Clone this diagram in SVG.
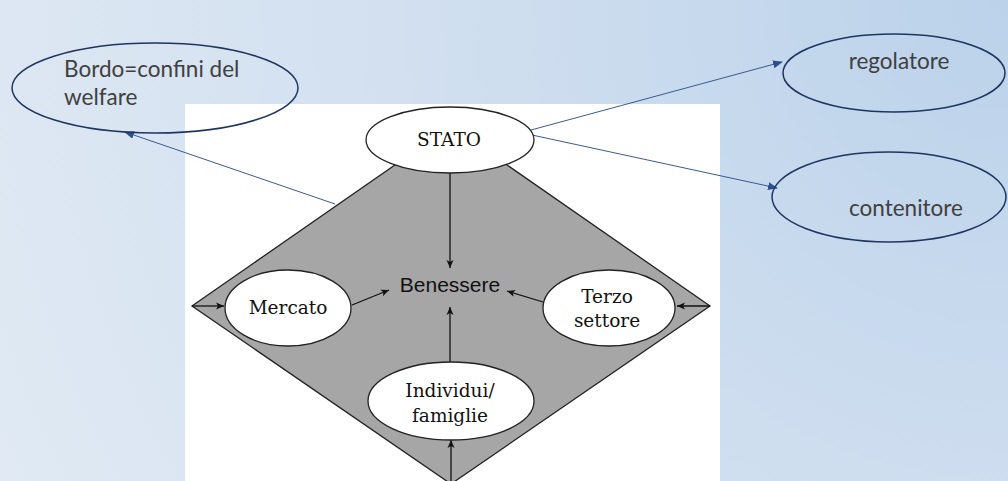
<svg xmlns="http://www.w3.org/2000/svg" width="1008" height="481" viewBox="0 0 1008 481">
  <defs>
    <radialGradient id="bg" cx="1008" cy="0" r="1150" gradientUnits="userSpaceOnUse">
      <stop offset="0" stop-color="#bbd2ea"/>
      <stop offset="0.45" stop-color="#cfdeef"/>
      <stop offset="1" stop-color="#e1eaf4"/>
    </radialGradient>
    <marker id="blueArrow" markerWidth="10" markerHeight="8" refX="9" refY="4" orient="auto" markerUnits="userSpaceOnUse">
      <path d="M0,0 L10,4 L0,8 z" fill="#2f4f8a"/>
    </marker>
    <marker id="blackArrow" markerWidth="9" markerHeight="8" refX="8" refY="4" orient="auto" markerUnits="userSpaceOnUse">
      <path d="M0,0.5 L8,4 L0,7.5 L2,4 z" fill="#111"/>
    </marker>
    <style>
      .blue-ell { fill: none; stroke: #1f3560; stroke-width: 1.5; }
      .blue-txt { font-family: Lato, "Open Sans", "Liberation Sans", sans-serif; font-size: 22.5px; fill: #404040; }
      .node-ell { fill: #ffffff; stroke: #222; stroke-width: 1.3; }
      .serif { font-family: "DejaVu Serif", "Liberation Serif", serif; font-size: 18.5px; fill: #111; text-anchor: middle; }
      .blue-line { stroke: #3a5a94; stroke-width: 1; fill: none; marker-end: url(#blueArrow); }
      .black-line { stroke: #111; stroke-width: 1.3; fill: none; marker-end: url(#blackArrow); }
    </style>
  </defs>

  <rect id="background" x="0" y="0" width="1008" height="481" fill="url(#bg)"/>
  <rect id="picture" x="185" y="104" width="535" height="377" fill="#ffffff"/>
  <polygon id="diamond" points="451,126 710,306 451,484 192,306" fill="#a6a6a6" stroke="#222" stroke-width="1.3"/>

  <g id="connectors">
    <line class="black-line" x1="192" y1="306" x2="224" y2="306"/>
    <line class="black-line" x1="710" y1="306" x2="677" y2="306"/>
    <line class="black-line" x1="451" y1="481" x2="451" y2="440"/>
    <line class="black-line" x1="450" y1="173" x2="450" y2="268"/>
    <line class="black-line" x1="450" y1="362" x2="450" y2="307"/>
    <line class="black-line" x1="352" y1="305" x2="389" y2="290"/>
    <line class="black-line" x1="543" y1="302" x2="507" y2="291"/>
    <line class="blue-line" x1="531" y1="130" x2="782" y2="62"/>
    <line class="blue-line" x1="532" y1="135" x2="777" y2="188"/>
    <line class="blue-line" x1="335" y1="204" x2="125" y2="132"/>
  </g>

  <g id="benessere">
    <text x="450" y="292" font-family="'Liberation Sans', Arial, sans-serif" font-size="21" fill="#111" text-anchor="middle">Benessere</text>
  </g>

  <g id="stato">
    <ellipse class="node-ell" cx="450" cy="140" rx="84" ry="33"/>
    <text x="449" y="146" class="serif" font-size="16.5">STATO</text>
  </g>

  <g id="mercato">
    <ellipse class="node-ell" cx="288" cy="308" rx="63" ry="38"/>
    <text x="288" y="314" class="serif">Mercato</text>
  </g>

  <g id="terzo-settore">
    <ellipse class="node-ell" cx="609" cy="308" rx="66" ry="38"/>
    <text class="serif"><tspan x="607" y="303">Terzo</tspan><tspan x="607" y="327">settore</tspan></text>
  </g>

  <g id="individui">
    <ellipse class="node-ell" cx="451" cy="401" rx="83" ry="39"/>
    <text class="serif"><tspan x="450" y="397">Individui/</tspan><tspan x="450" y="422">famiglie</tspan></text>
  </g>

  <g id="bordo">
    <ellipse class="blue-ell" cx="155" cy="88" rx="143" ry="45"/>
    <text class="blue-txt"><tspan x="64" y="77">Bordo=confini del</tspan><tspan x="64" y="105">welfare</tspan></text>
  </g>

  <g id="regolatore">
    <ellipse class="blue-ell" cx="894" cy="73" rx="111" ry="39"/>
    <text class="blue-txt" x="899" y="69" text-anchor="middle">regolatore</text>
  </g>

  <g id="contenitore">
    <ellipse class="blue-ell" cx="889" cy="197" rx="117" ry="45"/>
    <text class="blue-txt" x="906" y="216" text-anchor="middle">contenitore</text>
  </g>
</svg>
